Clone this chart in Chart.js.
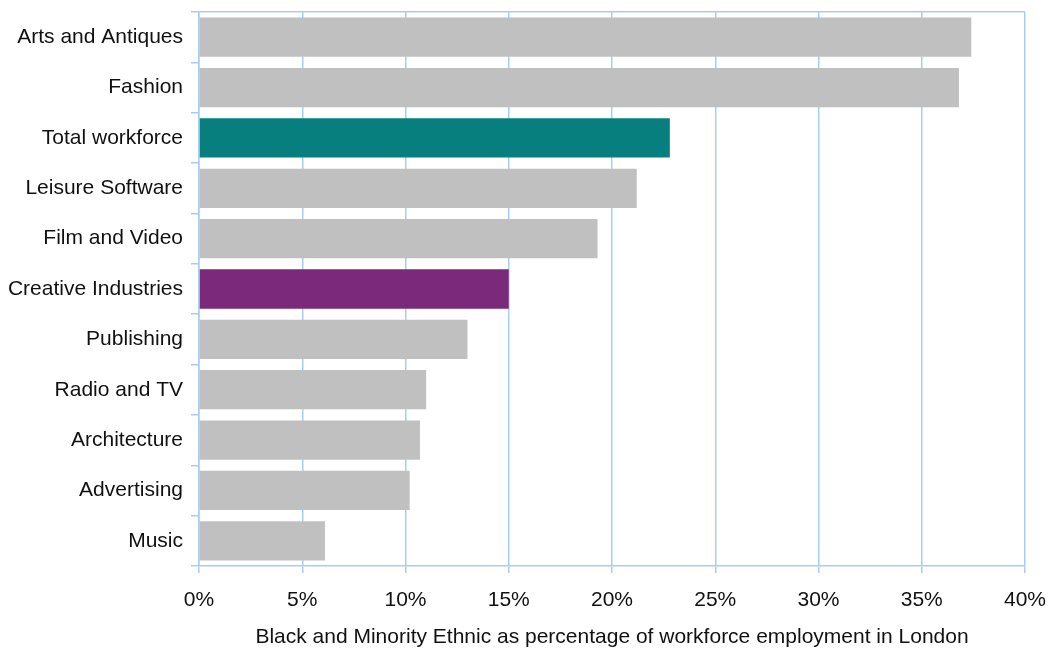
<!DOCTYPE html>
<html>
<head>
<meta charset="utf-8">
<script src="https://cdn.jsdelivr.net/npm/chart.js@4"></script>
<style>
  html, body { margin: 0; padding: 0; background: #fff; }
  #wrap { width: 1053px; height: 650px; }
</style>
</head>
<body>
<div id="wrap"><canvas id="bmeChart"></canvas></div>
<script>
const categories = ["Arts and Antiques", "Fashion", "Total workforce", "Leisure Software", "Film and Video",
    "Creative Industries", "Publishing", "Radio and TV", "Architecture", "Advertising", "Music"];
const bme_share = [37.4, 36.8, 22.8, 21.2, 19.3, 15.0, 13.0, 11.0, 10.7, 10.2, 6.1];
const bar_colours = ["#c0c0c0", "#c0c0c0", "#077f7e", "#c0c0c0", "#c0c0c0",
    "#7b2a7b", "#c0c0c0", "#c0c0c0", "#c0c0c0", "#c0c0c0", "#c0c0c0"];
const x_ticks = [0, 5, 10, 15, 20, 25, 30, 35, 40];
const x_title = "Black and Minority Ethnic as percentage of workforce employment in London";

const grid_blue = '#a9cdee';
Chart.defaults.font.family = '"Liberation Sans", Arial, sans-serif';
Chart.defaults.font.size = 21;
Chart.defaults.color = '#111';

const cvs = document.getElementById('bmeChart');

let chart = new Chart(cvs, {
    type: 'bar',
    data: {
        labels: categories,
        datasets: [{
            data: bme_share,
            backgroundColor: bar_colours,
            borderWidth: 0,
            barPercentage: 0.78,
            categoryPercentage: 1.0
        }]
    },
    options: {
        indexAxis: 'y',
        responsive: true,
        maintainAspectRatio: false,
        animation: false,
        layout: { padding: 0 },
        plugins: {
            legend: { display: false },
            tooltip: { enabled: false }
        },
        scales: {
            x: {
                min: 0,
                max: 40,
                afterBuildTicks: (axis) => { axis.ticks = x_ticks.map(v => ({ value: v })); },
                ticks: {
                    callback: (v) => v + '%',
                    padding: 15,
                    maxRotation: 0
                },
                grid: { color: grid_blue, lineWidth: 1.5, tickLength: 7 },
                border: { color: grid_blue, width: 1.5 },
                title: {
                    display: true,
                    text: x_title,
                    padding: { top: 6, bottom: 0 }
                },
                afterFit: (axis) => {
                    axis.height = 84;
                    axis.paddingRight = 28; // keep the 40% gridline at the right edge
                }
            },
            y: {
                grid: {
                    // only the top edge of the plot gets a line
                    color: (ctx) => ctx.index === 0 ? grid_blue : 'rgba(0,0,0,0)',
                    tickColor: grid_blue,
                    lineWidth: 1.5,
                    tickLength: 8,
                    offset: true
                },
                border: { color: grid_blue, width: 1.5 },
                ticks: { padding: 8 },
                afterFit: (axis) => {
                    axis.width = 199;
                    axis.paddingTop = 12;
                }
            }
        }
    }
});
</script>
</body>
</html>
